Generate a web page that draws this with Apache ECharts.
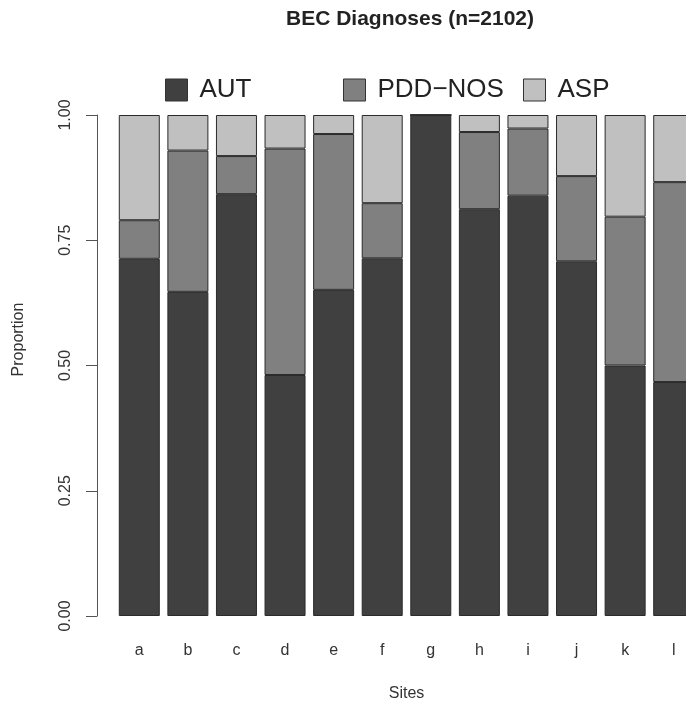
<!DOCTYPE html>
<html>
<head>
<meta charset="utf-8">
<script src="https://cdn.jsdelivr.net/npm/echarts@6/dist/echarts.min.js"></script>
<style>
html,body{margin:0;padding:0;background:#fff;overflow:hidden;width:686px;height:707px;}
#chart{width:720px;height:707px;}
</style>
</head>
<body>
<div id="chart"></div>
<script>
var sites = ['a','b','c','d','e','f','g','h','i','j','k','l'];
var aut = [0.713,0.647,0.842,0.481,0.651,0.714,1.000,0.812,0.839,0.708,0.500,0.467];
var pdd = [0.077,0.282,0.076,0.452,0.311,0.110,0.000,0.154,0.134,0.170,0.297,0.399];
var asp = [0.210,0.071,0.082,0.067,0.038,0.176,0.000,0.034,0.027,0.122,0.203,0.134];
var yTicks = [0, 0.25, 0.5, 0.75, 1];

var chart = echarts.init(document.getElementById('chart'), null, {renderer:'canvas'});
var font = 'Liberation Sans, Arial, sans-serif';
function legendAt(name, left){
  return {
    data:[name], left:left, top:72, orient:'horizontal',
    itemWidth:22, itemHeight:22, icon:'rect',
    itemStyle:{borderColor:'#333', borderWidth:1},
    textStyle:{fontSize:26, color:'#222', fontFamily:font, padding:[0,0,0,7]},
    selectedMode:false
  };
}
var segStyle = function(c){ return {color:c, borderColor:'#2a2a2a', borderWidth:1}; };
chart.setOption({
  animation:false,
  backgroundColor:'#fff',
  title:{
    text:'BEC Diagnoses (n=2102)', left:405, top:4, textAlign:'center',
    textStyle:{fontSize:21, fontWeight:'bold', color:'#222', fontFamily:font}
  },
  legend:[legendAt('AUT',160), legendAt('PDD\u2212NOS',338), legendAt('ASP',518)],
  grid:{left:115, top:115, width:583, height:502, containLabel:false},
  xAxis:{
    type:'category', data:sites,
    axisLine:{show:false}, axisTick:{show:false},
    axisLabel:{fontSize:16, color:'#333', fontFamily:font, margin:27},
    name:'Sites', nameLocation:'middle', nameGap:70,
    nameTextStyle:{fontSize:16, color:'#333', fontFamily:font}
  },
  yAxis:{
    type:'value', min:0, max:1, interval:0.25, offset:18,
    axisLine:{show:true, lineStyle:{color:'#555', width:1}},
    axisTick:{show:true, length:11, lineStyle:{color:'#555'}},
    splitLine:{show:false},
    axisLabel:{rotate:90, margin:23, fontSize:16, color:'#333', fontFamily:font,
      formatter:function(v){ return v.toFixed(2); }},
    name:'Proportion', nameLocation:'middle', nameGap:70,
    nameTextStyle:{fontSize:16, color:'#333', fontFamily:font, padding:[0,0,0,52]}
  },
  series:[
    {name:'AUT', type:'bar', stack:'t', data:aut, barWidth:41, itemStyle:segStyle('#404040')},
    {name:'PDD\u2212NOS', type:'bar', stack:'t', data:pdd, barWidth:41, itemStyle:segStyle('#808080')},
    {name:'ASP', type:'bar', stack:'t', data:asp, barWidth:41, itemStyle:segStyle('#c0c0c0')}
  ]
});
</script>
</body>
</html>
